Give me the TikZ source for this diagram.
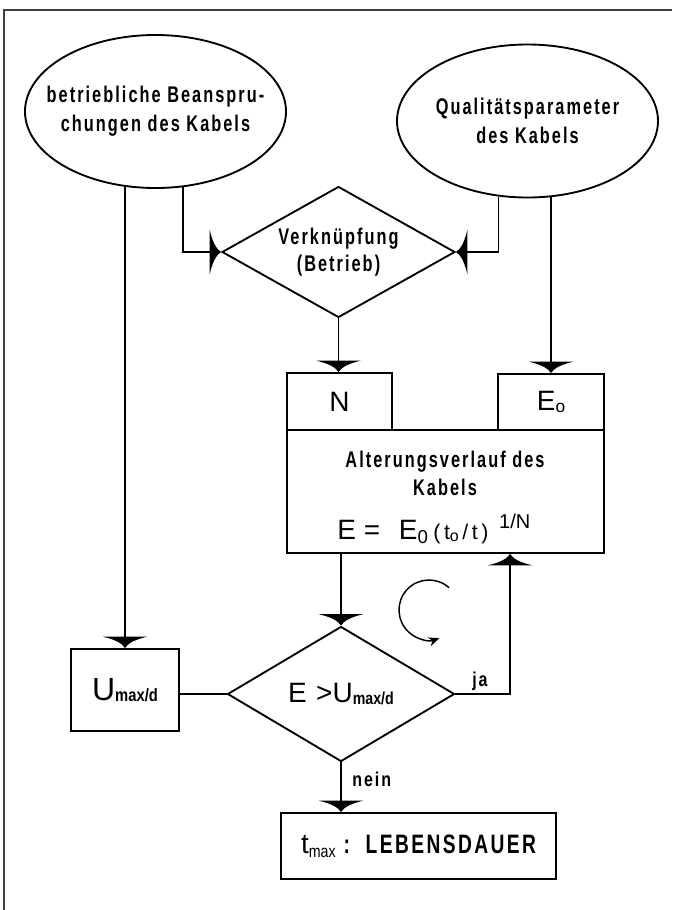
\documentclass[tikz,border=0pt]{standalone}
\usepackage{fontspec}
\setmainfont{Liberation Sans}
\newfontfamily\cond{Liberation Sans}[FakeStretch=0.8,LetterSpace=10]
\newfontfamily\condn{Liberation Sans}[FakeStretch=0.72,LetterSpace=9]
\newfontfamily\condt{Liberation Sans}[FakeStretch=0.82]
\usetikzlibrary{shapes.geometric,arrows.meta,calc}
\pgfdeclarearrow{
  name = Wedge,
  parameters = {\the\pgfarrowlength,\the\pgfarrowwidth},
  setup code = {
    \pgfarrowssettipend{\pgfarrowlength}
    \pgfarrowssetlineend{0.3\pgfarrowlength}
    \pgfarrowshullpoint{\pgfarrowlength}{0pt}
    \pgfarrowsupperhullpoint{0pt}{.5\pgfarrowwidth}
    \pgfarrowssavethe\pgfarrowlength
    \pgfarrowssavethe\pgfarrowwidth
  },
  drawing code = {
    \pgfpathmoveto{\pgfqpoint{\pgfarrowlength}{0pt}}
    \pgfpathcurveto{\pgfqpoint{.6\pgfarrowlength}{.06\pgfarrowwidth}}{\pgfqpoint{.25\pgfarrowlength}{.22\pgfarrowwidth}}{\pgfqpoint{0pt}{.5\pgfarrowwidth}}
    \pgfpathlineto{\pgfqpoint{0pt}{-.5\pgfarrowwidth}}
    \pgfpathcurveto{\pgfqpoint{.25\pgfarrowlength}{-.22\pgfarrowwidth}}{\pgfqpoint{.6\pgfarrowlength}{-.06\pgfarrowwidth}}{\pgfqpoint{\pgfarrowlength}{0pt}}
    \pgfpathclose
    \pgfusepathqfill
  },
  defaults = {length = 8.5pt, width = 33pt}
}
\begin{document}
\begin{tikzpicture}[x=0.75pt,y=-0.75pt,
  shp/.style={draw,line width=1.4pt,inner sep=0pt},
  conn/.style={line width=1.1pt},
  arr/.style={conn,-{Wedge}},
  ell/.style={shp,ellipse,inner xsep=-30pt,inner ysep=-5pt,minimum width=261*0.75pt,minimum height=153*0.75pt,align=center,
    font=\condn\bfseries\fontsize{17}{21.75}\selectfont},
  dia/.style={shp,diamond,aspect=1.78,align=center},
  box/.style={shp,rectangle},
  big/.style={font=\fontsize{21}{21}\selectfont},
  lbl/.style={font=\cond\bfseries\fontsize{15}{16}\selectfont,inner sep=0pt}]
\useasboundingbox (0,0) rectangle (672,910);
% frame
\draw[line width=0.8pt,black!75] (4,910) -- (4,10) -- (672,10);
% ellipses
\node[ell] (e1) at (155.5,111.5) {betriebliche Beanspru-\\chungen des Kabels};
\node[ell] (e2) at (527.5,121) {Qualitätsparameter\\des Kabels};
% upper diamond
\node[dia,minimum width=233*0.75pt,minimum height=131*0.75pt,
  font=\condn\bfseries\fontsize{17}{20}\selectfont] (d1) at (338.5,252) {Verknüpfung\\(Betrieb)};
% boxes N, E0, ageing box
\node[box,minimum width=105*0.75pt,minimum height=57*0.75pt,big] (n) at (339.5,401.5) {N};
\node[box,minimum width=106*0.75pt,minimum height=56*0.75pt,big] (e0) at (551,402) {E\raisebox{-2pt}{\fontsize{13}{13}\selectfont o}};
\node[box,minimum width=317*0.75pt,minimum height=123*0.75pt] (a) at (445.5,491.5) {};
\node[anchor=base,inner sep=0pt,font=\condn\bfseries\fontsize{17}{17}\selectfont] (a1) at (445,467) {Alterungsverlauf des};
\node[anchor=base,inner sep=0pt,font=\condn\bfseries\fontsize{17}{17}\selectfont] (a2) at (445,495) {Kabels};
\node[anchor=base west,inner sep=0pt,big] (af) at (337,539)
  {E\hspace{6pt}=\hspace{14pt}E\raisebox{-3pt}{\fontsize{14}{14}\selectfont 0}\hspace{4pt}{\fontsize{16}{16}\selectfont(\,t\raisebox{-2pt}{\fontsize{12}{12}\selectfont o}\,/\,t\,)}\hspace{8pt}\raisebox{8pt}{\fontsize{15}{15}\selectfont 1/N}};
% lower diamond
\node[dia,minimum width=227*0.75pt,minimum height=135*0.75pt,
  font=\fontsize{21}{21}\selectfont] (d2) at (341,694)
  {E\hspace{7pt}>U\raisebox{-2pt}{\condt\bfseries\fontsize{13}{13}\selectfont max/d}};
% U box
\node[box,minimum width=108*0.75pt,minimum height=82*0.75pt,font=\fontsize{24}{24}\selectfont] (u) at (125,690)
  {U\raisebox{-1pt}{\condt\bfseries\fontsize{13.5}{14}\selectfont max/d}};
% result box
\node[box,minimum width=275*0.75pt,minimum height=66*0.75pt] (l) at (418.5,846)
  {\fontsize{21}{21}\selectfont t\raisebox{-3pt}{\condt\fontsize{13}{13}\selectfont max}\hspace{6pt}{\condn\bfseries\fontsize{20}{20}\selectfont :\hspace{4pt} LEBENSDAUER}};
% connectors
\draw[arr] (u.north |- e1.-111) -- (u.north);
\draw[arr] (e1.-70.5) |- (d1.west);
\draw[arr] (e2.-111.7) |- (d1.east);
\draw[arr] (e0.north |- e2.-72.6) -- (e0.north);
\draw[arr] (d1.south) -- (d1.south |- n.north);
\draw[arr] (d2.north |- a.south) -- (d2.north);
\draw[conn] (u.east |- d2.west) -- (d2.west);
\draw[arr] (d2.east) -| ([xshift=168pt]a.south west);
\draw[arr] (d2.south) -- (d2.south |- l.north);
% labels
\node[lbl,anchor=base west] (ja) at (472,686) {ja};
\node[lbl,anchor=base west] (nein) at (352,786) {nein};
% loop arrow
\draw[conn,-{Stealth[length=8pt,width=7pt]}] ([shift={(-48:30)}]429,610) arc[start angle=-48,end angle=-290,radius=30];
\end{tikzpicture}
\end{document}
